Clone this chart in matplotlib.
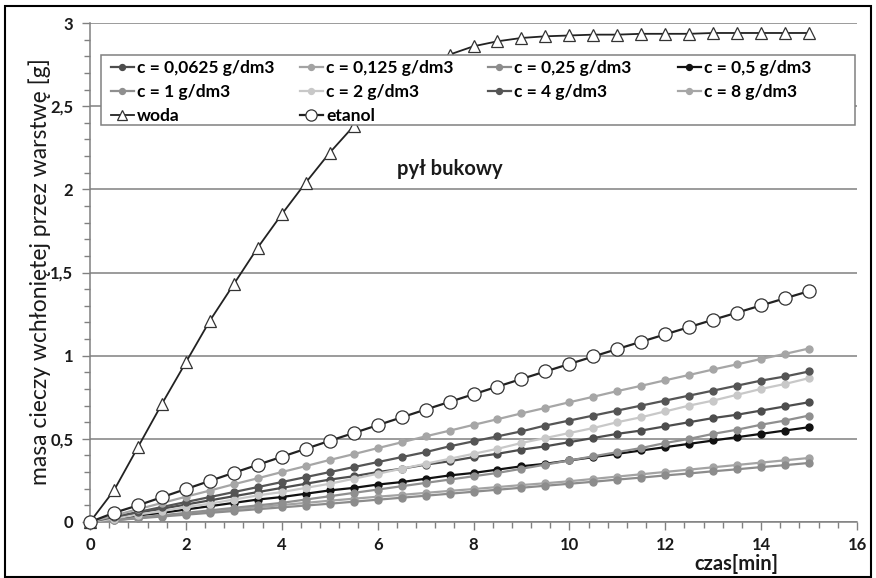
import matplotlib
matplotlib.use("Agg")
import matplotlib.pyplot as plt
from matplotlib.ticker import MultipleLocator, FuncFormatter
from matplotlib.patches import Rectangle

plt.rcParams['font.family'] = ['Lato', 'DejaVu Sans']

t = [i * 0.5 for i in range(31)]

c_0625 = [0, 0.03, 0.055, 0.08, 0.105, 0.13, 0.155, 0.18, 0.205, 0.23, 0.255,
          0.275, 0.30, 0.32, 0.345, 0.365, 0.39, 0.41, 0.435, 0.455, 0.48,
          0.505, 0.53, 0.55, 0.575, 0.60, 0.625, 0.645, 0.67, 0.695, 0.72]
c_0125 = [0, 0.012, 0.025, 0.038, 0.05, 0.063, 0.076, 0.089, 0.102, 0.115, 0.128,
          0.14, 0.152, 0.163, 0.175, 0.187, 0.198, 0.21, 0.222, 0.233, 0.245,
          0.259, 0.273, 0.287, 0.301, 0.315, 0.329, 0.343, 0.357, 0.371, 0.385]
c_025 = [0, 0.011, 0.022, 0.033, 0.044, 0.055, 0.066, 0.077, 0.088, 0.099, 0.11,
         0.122, 0.134, 0.146, 0.158, 0.17, 0.182, 0.194, 0.206, 0.218, 0.23,
         0.242, 0.255, 0.267, 0.28, 0.292, 0.305, 0.317, 0.33, 0.342, 0.355]
c_05 = [0, 0.02, 0.04, 0.055, 0.075, 0.095, 0.115, 0.135, 0.15, 0.17, 0.19,
        0.205, 0.225, 0.24, 0.26, 0.28, 0.295, 0.315, 0.335, 0.35, 0.37,
        0.39, 0.41, 0.43, 0.45, 0.47, 0.49, 0.51, 0.53, 0.55, 0.57]
c_1 = [0, 0.01, 0.025, 0.04, 0.055, 0.07, 0.085, 0.10, 0.115, 0.135, 0.155,
       0.175, 0.195, 0.215, 0.235, 0.255, 0.275, 0.295, 0.32, 0.345, 0.37,
       0.395, 0.42, 0.445, 0.475, 0.50, 0.53, 0.555, 0.585, 0.61, 0.64]
c_2 = [0, 0.02, 0.045, 0.065, 0.09, 0.11, 0.135, 0.16, 0.18, 0.205, 0.23,
       0.26, 0.29, 0.32, 0.35, 0.38, 0.41, 0.44, 0.475, 0.505, 0.535,
       0.565, 0.60, 0.63, 0.665, 0.70, 0.73, 0.765, 0.80, 0.83, 0.865]
c_4 = [0, 0.03, 0.06, 0.09, 0.12, 0.15, 0.18, 0.21, 0.24, 0.27, 0.30,
       0.33, 0.36, 0.39, 0.42, 0.455, 0.485, 0.515, 0.545, 0.58, 0.61,
       0.64, 0.67, 0.70, 0.73, 0.76, 0.79, 0.82, 0.85, 0.875, 0.905]
c_8 = [0, 0.038, 0.077, 0.114, 0.152, 0.189, 0.227, 0.263, 0.300, 0.336, 0.373,
       0.408, 0.444, 0.479, 0.515, 0.549, 0.584, 0.618, 0.653, 0.686, 0.720,
       0.753, 0.787, 0.819, 0.852, 0.884, 0.917, 0.948, 0.980, 1.011, 1.043]
woda = [0, 0.19, 0.45, 0.71, 0.96, 1.21, 1.43, 1.65, 1.85, 2.04, 2.22,
        2.38, 2.52, 2.64, 2.74, 2.81, 2.86, 2.89, 2.91, 2.92, 2.925,
        2.93, 2.93, 2.935, 2.935, 2.935, 2.94, 2.94, 2.94, 2.94, 2.94]
etanol = [0, 0.055, 0.100, 0.149, 0.198, 0.247, 0.296, 0.344, 0.392, 0.440, 0.488,
          0.535, 0.582, 0.629, 0.676, 0.722, 0.768, 0.814, 0.860, 0.905, 0.950,
          0.995, 1.040, 1.084, 1.128, 1.172, 1.216, 1.259, 1.302, 1.345, 1.388]

labels = ["c = 0,0625 g/dm3", "c = 0,125 g/dm3", "c = 0,25 g/dm3", "c = 0,5 g/dm3",
          "c = 1 g/dm3", "c = 2 g/dm3", "c = 4 g/dm3", "c = 8 g/dm3", "woda", "etanol"]
c_series = [c_0625, c_0125, c_025, c_05, c_1, c_2, c_4, c_8]
c_colors = ["#4d4d4d", "#a3a3a3", "#8c8c8c", "#111111",
            "#8f8f8f", "#c8c8c8", "#555555", "#a6a6a6"]

fig = plt.figure(figsize=(8.76, 5.78), dpi=100)
ax = fig.add_axes([90 / 876, 1 - 522 / 578, 767 / 876, 499 / 578])

handles = []
for ys, col, lab in zip(c_series, c_colors, labels[:8]):
    h, = ax.plot(t, ys, color=col, lw=1.6, marker='o', ms=5, mfc=col, mec=col,
                 label=lab, zorder=3, clip_on=False)
    handles.append(h)
h_w, = ax.plot(t, woda, color='#222222', lw=1.3, marker='^', ms=9, mfc='white',
               mec='#333333', mew=0.9, label=labels[8], zorder=4, clip_on=False)
h_e, = ax.plot(t, etanol, color='#222222', lw=1.6, marker='o', ms=9.5, mfc='white',
               mec='#333333', mew=0.9, label=labels[9], zorder=4, clip_on=False)
handles += [h_w, h_e]

ax.set_xlim(0, 16)
ax.set_ylim(0, 3)
ax.xaxis.set_major_locator(MultipleLocator(2))
ax.xaxis.set_minor_locator(MultipleLocator(0.4))
ax.yaxis.set_major_locator(MultipleLocator(0.5))
ax.yaxis.set_minor_locator(MultipleLocator(0.1))
fmt = FuncFormatter(lambda v, p: ('%g' % v).replace('.', ','))
ax.yaxis.set_major_formatter(fmt)
ax.xaxis.set_major_formatter(fmt)
ax.grid(axis='y', which='major', color='#808080', lw=1.1)
ax.set_axisbelow(True)
for s in ['top', 'right']:
    ax.spines[s].set_visible(False)
for s in ['left', 'bottom']:
    ax.spines[s].set_color('#808080')
    ax.spines[s].set_linewidth(1.1)
ax.tick_params(which='major', direction='out', length=6, color='#808080', width=1,
               labelsize=12, pad=6)
ax.tick_params(axis='x', which='major', pad=4.5)
ax.tick_params(which='minor', direction='out', length=4, color='#808080', width=1)
for lbl in ax.get_xticklabels() + ax.get_yticklabels():
    lbl.set_fontweight('bold')
    lbl.set_color('#1a1a1a')

# legend frame (axes coords from pixel positions)
def ax_x(px):
    return (px - 90) / 767
def ax_y(py):
    return (522 - py) / 499

frame = Rectangle((ax_x(101), ax_y(125)), ax_x(855) - ax_x(101), ax_y(55) - ax_y(125),
                  transform=ax.transAxes, facecolor='white', edgecolor='#808080',
                  lw=1.1, zorder=9, clip_on=False)
ax.add_patch(frame)

columns = [[0, 4, 8], [1, 5, 9], [2, 6], [3, 7]]
col_x = [111, 300, 488, 678]
legs = []
for idxs, cx in zip(columns, col_x):
    lg = ax.legend([handles[i] for i in idxs], [labels[i] for i in idxs],
                   ncol=1, loc='upper left',
                   bbox_to_anchor=(ax_x(cx), ax_y(60)),
                   frameon=False, prop={'weight': 'bold', 'size': 12.5},
                   handlelength=1.3, handletextpad=0.2, borderaxespad=0,
                   labelspacing=0.45, borderpad=0.0, markerscale=0.85)
    lg.set_zorder(10)
    legs.append(lg)
for lg in legs[:-1]:
    ax.add_artist(lg)

ax.text(7.5, 2.12, "pył bukowy", ha='center', va='center', fontsize=14.5,
        fontweight='bold', color='#1a1a1a')
fig.text(736 / 876, 1 - 564 / 578, "czas[min]", ha='center', va='center',
         fontsize=14.5, fontweight='bold', color='#1a1a1a')
fig.text(40 / 876, 1 - 272 / 578, "masa cieczy wchłoniętej przez warstwę [g]",
         rotation=90, ha='center', va='center', fontsize=16.5, color='#1a1a1a')

fig.patches.append(Rectangle((5 / 876, 1 / 578), 866 / 876, 571 / 578,
                             transform=fig.transFigure, fill=False,
                             edgecolor='black', lw=1.5))

fig.savefig("out.png", dpi=100)
